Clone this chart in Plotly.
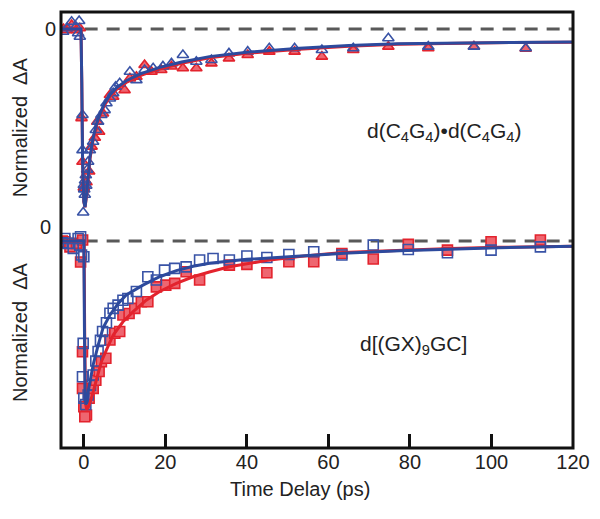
import plotly.graph_objects as go

# ---------------- data ----------------
# Top panel: d(C4G4)•d(C4G4)
top_blue_t = [-5.07, -4.1, -3.0, -1.96, -1.15, -1.4, -0.98,
              -0.33, -0.33, -0.16, 0.0, 0.1, 0.24, 0.3, 0.49, 0.6, 0.82, 1.06, 1.47, 2.28, 2.94, 3.5,
              4.3, 5.1, 5.55, 6.4, 7.2, 7.8, 8.8, 11.3, 12.9, 14.9, 17.0, 19.4, 21.5, 24.3, 27.6,
              31.3, 35.6, 40.2, 45.5, 51.7, 58.4, 66.1, 74.7, 84.5, 95.7, 108.4]
top_blue_v = [-0.015, 0.004, 0.041, 0.013, 0.045, -0.024, -0.043,
              -0.483, -0.68, -1.03, -0.876, -0.90, -0.93, -0.85, -0.82, -0.88, -0.79, -0.745, -0.68, -0.633, -0.567, -0.52,
              -0.483, -0.455, -0.417, -0.39, -0.36, -0.324, -0.305, -0.24, -0.287, -0.23, -0.22, -0.21, -0.193, -0.146, -0.184,
              -0.174, -0.137, -0.127, -0.108, -0.108, -0.118, -0.108, -0.052, -0.099, -0.099, -0.108]

top_red_t = [-5.0, -4.2, -3.0, -1.8, -1.0,
             -0.57, -0.33, 0.0, 0.65, 1.3, 1.9, 2.7, 3.3, 3.75, 4.7, 6.4, 7.2, 10.0, 11.3, 12.9, 14.9,
             16.6, 19.0, 21.5, 24.3, 27.6,
             31.3, 35.6, 40.2, 45.5, 51.7, 58.4, 66.1, 74.7, 84.5, 95.7, 108.4]
top_red_v = [0.0, -0.006, 0.022, -0.006, 0.004,
             -0.5, -0.745, -0.89, -0.86, -0.8, -0.66, -0.61, -0.52, -0.577, -0.474, -0.37, -0.38, -0.343, -0.277, -0.268, -0.202,
             -0.24, -0.23, -0.21, -0.22, -0.22,
             -0.193, -0.165, -0.146, -0.127, -0.127, -0.155, -0.118, -0.099, -0.108, -0.099, -0.11]

top_fit_t = [-5.6, -0.7, -0.5, -0.3, 0.0, 0.3, 0.7, 1.5, 2.3, 3.0, 3.9, 5.0, 6.4, 8.0, 10.4, 14.0, 18.6,
             24.0, 30.8, 40.0, 52.9, 65.0, 77.0, 90.0, 105.0, 120.0]
top_fit_blue = [0.0, 0.0, -0.3, -0.75, -0.97, -1.0, -0.92, -0.72, -0.61, -0.54, -0.48, -0.42, -0.37, -0.33, -0.29,
                -0.25, -0.215, -0.185, -0.155, -0.13, -0.108, -0.093, -0.083, -0.078, -0.075, -0.073]
top_fit_red = [0.0, 0.0, -0.3, -0.75, -0.97, -1.0, -0.93, -0.73, -0.62, -0.55, -0.49, -0.43, -0.38, -0.34, -0.30,
               -0.26, -0.224, -0.193, -0.162, -0.136, -0.113, -0.097, -0.086, -0.080, -0.076, -0.074]

# Bottom panel: d[(GX)9GC]
bot_blue_t = [-5.3, -4.65, -3.8, -2.6, -1.4, -1.0, -0.8, -0.57, 0.0,
              -0.16, -0.33, 0.0, 0.49, 1.06, 1.63, 2.3, 2.94, 3.5, 4.08, 4.6, 5.55, 6.4, 7.2, 8.4, 9.6,
              10.8, 12.9, 15.7, 17.8, 19.8, 22.3, 25.1, 28.4,
              31.7, 35.7, 40.0, 44.9, 50.3, 56.4, 63.3, 71.0, 79.6, 89.2, 99.9, 112.0]
bot_blue_v = [-0.01, 0.015, -0.013, -0.042, 0.015, -0.023, 0.025, -0.08, -0.09,
              -0.588, -0.78, -0.904, -0.94, -0.885, -0.83, -0.77, -0.69, -0.635, -0.57, -0.52, -0.47, -0.415, -0.387, -0.368, -0.34,
              -0.33, -0.29, -0.205, -0.224, -0.167, -0.157, -0.148, -0.109,
              -0.1, -0.109, -0.086, -0.094, -0.077, -0.061, -0.08, -0.023, -0.048, -0.067, -0.052, -0.033]

bot_red_t = [-5.3, -4.65, -3.4, -1.8, -0.8, -0.3,
             -0.33, -0.33, 0.0, 0.65, 0.24, 1.3, 2.3, 2.94, 3.75, 4.3, 5.4, 6.4, 7.6, 8.8, 9.6, 11.1,
             12.5, 14.1, 15.7, 17.8, 20.1, 22.3, 25.1, 28.4,
             35.7, 40.0, 44.9, 50.3, 56.4, 63.3, 71.0, 79.6, 89.2, 99.9, 112.0]
bot_red_v = [0.0, -0.004, -0.033, -0.013, -0.12, 0.006,
             -0.636, -0.847, -0.952, -1.0, -1.01, -0.904, -0.847, -0.8, -0.75, -0.694, -0.674, -0.569, -0.53, -0.52, -0.425, -0.416,
             -0.387, -0.349, -0.349, -0.263, -0.253, -0.243, -0.176, -0.224,
             -0.138, -0.134, -0.182, -0.119, -0.119, -0.071, -0.103, -0.019, -0.052, -0.004, 0.006]

bot_fit_blue_t = [-5.6, 0.0, 0.15, 0.3, 0.5, 0.8, 1.06, 1.6, 2.3, 3.5, 4.7, 6.4, 8.4, 10.4, 14.5, 18.6, 22.7,
                  26.8, 30.8, 40.0, 52.9, 65.0, 77.4, 90.0, 101.8, 120.0]
bot_fit_blue_v = [0.0, 0.0, -0.5, -0.9, -0.94, -0.92, -0.866, -0.79, -0.71, -0.6, -0.5, -0.425, -0.36, -0.31, -0.253,
                  -0.205, -0.17, -0.145, -0.127, -0.105, -0.086, -0.068, -0.056, -0.046, -0.038, -0.029]
bot_fit_red_t = [-5.6, 0.05, 0.2, 0.4, 0.7, 1.2, 1.9, 3.1, 4.3, 5.55, 7.2, 9.6, 12.1, 15.3, 18.6, 22.7, 26.8,
                 30.8, 35.7, 44.7, 52.9, 63.5, 77.4, 90.0, 101.8, 120.0]
bot_fit_red_v = [0.0, 0.0, -0.5, -0.93, -0.97, -0.95, -0.9, -0.79, -0.694, -0.626, -0.54, -0.464, -0.406, -0.34,
                 -0.29, -0.243, -0.205, -0.178, -0.148, -0.112, -0.088, -0.066, -0.052, -0.043, -0.036, -0.029]

x_ticks = [0, 20, 40, 60, 80, 100, 120]

# ---------------- styling ----------------
FONT = "Liberation Sans, Arial, Helvetica, sans-serif"
RED_LINE = "#e3232d"
RED_FILL = "#ee6670"
BLUE_LINE = "#2d4a9d"
BLUE_MK = "#3953a6"

fig = go.Figure()

def markers(t, v, yax, symbol, fill, edge, name):
    fig.add_trace(go.Scatter(x=t, y=v, mode="markers", yaxis=yax, name=name,
                             marker=dict(symbol=symbol, size=10, color=fill,
                                         line=dict(color=edge, width=1.6))))

def line(t, v, yax, color, name):
    fig.add_trace(go.Scatter(x=t, y=v, mode="lines", yaxis=yax, name=name,
                             line=dict(color=color, width=3)))

markers(top_red_t, top_red_v, "y", "triangle-up", RED_FILL, RED_LINE, "top red")
markers(top_blue_t, top_blue_v, "y", "triangle-up-open", BLUE_MK, BLUE_MK, "top blue")
line(top_fit_t, top_fit_red, "y", RED_LINE, "top red fit")
line(top_fit_t, top_fit_blue, "y", BLUE_LINE, "top blue fit")

markers(bot_red_t, bot_red_v, "y2", "square", RED_FILL, RED_LINE, "bottom red")
markers(bot_blue_t, bot_blue_v, "y2", "square-open", BLUE_MK, BLUE_MK, "bottom blue")
line(bot_fit_red_t, bot_fit_red_v, "y2", RED_LINE, "bottom red fit")
line(bot_fit_blue_t, bot_fit_blue_v, "y2", BLUE_LINE, "bottom blue fit")

# The page body adds an 8px margin, so the figure is 8px smaller and margins are shifted.
split = 0.518
fig.update_layout(
    width=592, height=511,
    margin=dict(l=53, r=27, t=4, b=71),
    paper_bgcolor="white", plot_bgcolor="white",
    showlegend=False,
    font=dict(family=FONT, size=20, color="#222"),
    xaxis=dict(domain=[0, 1], range=[-5.6, 120], anchor="y2",
               tickvals=x_ticks, ticks="inside", ticklen=14, tickwidth=3, tickcolor="#111",
               showgrid=False, zeroline=False, showline=False,
               tickfont=dict(size=20, family=FONT, color="#222")),
    yaxis=dict(domain=[split, 1], range=[-1.084, 0.0955], anchor="x",
               tickvals=[0], ticktext=["0"], ticks="", showgrid=False, zeroline=False,
               showline=False, ticklabelstandoff=4,
               tickfont=dict(size=20, family=FONT, color="#222")),
    yaxis2=dict(domain=[0, split], range=[-1.19, 0.109], anchor="x",
                showticklabels=False, ticks="", showgrid=False, zeroline=False, showline=False),
)

# dashed zero lines
for yref in ("y", "y2"):
    fig.add_shape(type="line", xref="x", yref=yref, x0=0.2, x1=120, y0=0, y1=0,
                  line=dict(color="#595959", width=3, dash="13px,9px"), layer="below")

# frame
fig.add_shape(type="rect", xref="paper", yref="paper", x0=0, x1=1, y0=0, y1=1,
              line=dict(color="#111", width=3), layer="above")

ann = [
    dict(text="0", xref="paper", yref="y2", x=0, y=0, xshift=-8, yshift=14,
         xanchor="right", yanchor="middle", font=dict(size=20)),
    dict(text="Normalized  ΔA", xref="paper", yref="paper", x=-0.08, y=0.736, textangle=-90,
         xanchor="center", yanchor="middle", font=dict(size=20)),
    dict(text="Normalized  ΔA", xref="paper", yref="paper", x=-0.08, y=0.266, textangle=-90,
         xanchor="center", yanchor="middle", font=dict(size=20)),
    dict(text="Time Delay (ps)", xref="paper", yref="paper", x=0.467, y=-0.094,
         xanchor="center", yanchor="middle", font=dict(size=20)),
    dict(text="d(C<sub>4</sub>G<sub>4</sub>)•d(C<sub>4</sub>G<sub>4</sub>)", xref="paper", yref="paper",
         x=0.748, y=0.725, xanchor="center", yanchor="middle", font=dict(size=21)),
    dict(text="d[(GX)<sub>9</sub>GC]", xref="paper", yref="paper",
         x=0.6875, y=0.236, xanchor="center", yanchor="middle", font=dict(size=21)),
]
for a in ann:
    a["showarrow"] = False
    fig.add_annotation(**a)

fig.write_html("out.html")
